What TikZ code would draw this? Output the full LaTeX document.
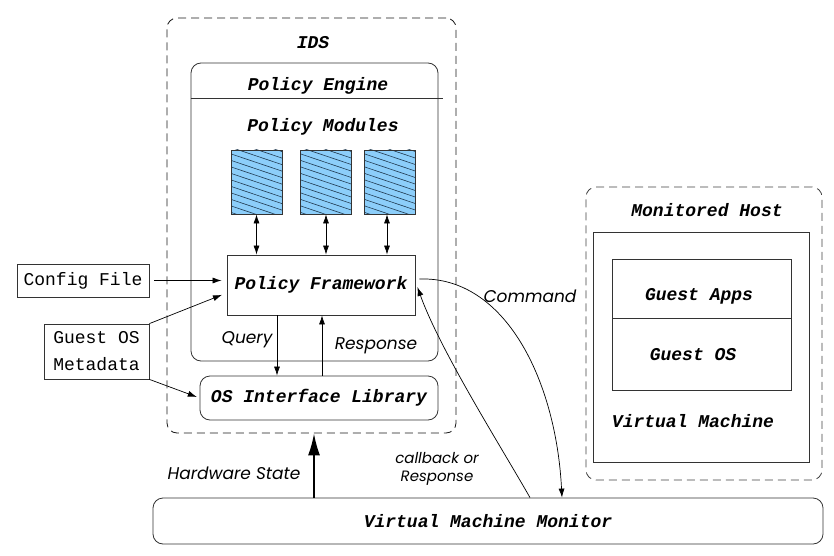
\documentclass[tikz,border=0pt]{standalone}
\usepackage{fontspec}
\newfontfamily\cour{Liberation Mono}
\newfontfamily\gothic{Poppins}
\usetikzlibrary{arrows.meta,calc}
\definecolor{modblue}{HTML}{8CCEFA}
\definecolor{hatchcol}{HTML}{203A50}
\begin{document}
\begin{tikzpicture}[x=1pt,y=-1pt, line width=0.8pt,
  box/.style={draw=black!80, inner sep=0pt},
  rbox/.style={box, rounded corners=10pt},
  dashbox/.style={rbox, draw=black!75, dash pattern=on 8pt off 5pt},
  mb/.style={font=\cour\bfseries\itshape\fontsize{18}{22}\selectfont},
  mono/.style={font=\cour\fontsize{18}{27}\selectfont},
  lab/.style={font=\gothic\itshape\fontsize{17}{20}\selectfont},
  smalllab/.style={font=\gothic\itshape\fontsize{15}{18}\selectfont, align=center},
  arr/.style={-{Latex[length=9pt,width=6pt]}, line width=0.7pt},
  dbl/.style={{Latex[length=9pt,width=6pt]}-{Latex[length=9pt,width=6pt]}, line width=0.7pt},
  harr/.style={-{Latex[length=22pt,width=12pt]}, line width=1.8pt},
  module/.style={draw=black!80, fill=modblue, minimum width=51pt, minimum height=64pt, inner sep=0pt,
    path picture={\foreach \k in {-9,...,9}{\draw[hatchcol, line width=0.6pt]
      ($(path picture bounding box.center)+(-40pt,\k*6.5pt+13.5pt)$) -- ++(80pt,-27pt);}}}
]
\useasboundingbox (0,0) rectangle (834,556);

% IDS
\node[dashbox, draw=black!90, minimum width=289pt, minimum height=415pt] (ids) at (311.5,225.5) {};
\node[mb] (idsl) at (313,43) {IDS};
\node[rbox, minimum width=247pt, minimum height=298pt] (pe) at (314.5,212) {};
\draw[draw=black!80] ([yshift=-36pt]pe.north west) -- ++(252,0);
\node[mb] (pel) at (318,86) {Policy Engine};
\node[mb] (pml) at (323,127) {Policy Modules};
\node[module] (m1) at (256.5,182) {};
\node[module] (m2) at (326,182) {};
\node[module] (m3) at (390,182) {};
\node[box, mb, minimum width=188pt, minimum height=60pt] (pf) at (321,285) {Policy Framework};
\draw[dbl] (m1.south) -- (m1.south |- pf.north);
\draw[dbl] (m2.south) -- (m2.south |- pf.north);
\draw[dbl] ([xshift=-3pt]m3.south) -- ([xshift=-3pt]m3.south |- pf.north);
\node[rbox, mb, minimum width=238pt, minimum height=44pt] (osil) at (319,398) {OS Interface Library};
\draw[arr] ([xshift=-44pt]pf.south) -- ([xshift=-44pt]pf.south |- osil.north);
\draw[arr] ([xshift=1pt]pf.south |- osil.north) -- ([xshift=1pt]pf.south);
\node[lab] (q) at (247,340) {Query};
\node[lab] (r) at (376,346) {Response};

% inputs
\node[box, mono, minimum width=132pt, minimum height=33pt] (cfg) at (83,280.5) {Config File};
\node[box, mono, align=left, minimum width=105pt, minimum height=55pt] (gom) at (96.5,351.5) {Guest OS\\Metadata};
\draw[arr, shorten <=5pt, shorten >=5pt] (cfg.east) -- (cfg.east -| pf.west);
\draw[arr, shorten >=5pt] (gom.north east) -- ([yshift=-8pt]pf.west);
\draw[arr, shorten >=3pt] (gom.south east) -- (osil.west);

% VMM
\node[rbox, mb, minimum width=670pt, minimum height=46pt] (vmm) at (488,521) {Virtual Machine Monitor};
\draw[harr] ([xshift=-174pt]vmm.north) -- ([xshift=-174pt]vmm.north |- ids.south);
\node[lab] (hw) at (234,473) {Hardware State};

% Monitored host
\node[dashbox, minimum width=236pt, minimum height=293pt] (mh) at (704,333.5) {};
\node[mb] (mhl) at (707,210) {Monitored Host};
\node[box, minimum width=216pt, minimum height=230pt] (vm) at (701,347) {};
\node[mb] (vml) at (693,421) {Virtual Machine};
\node[box, minimum width=179pt, minimum height=59pt] (ga) at (701.5,288.5) {};
\node[mb] (gal) at (699,296) {Guest Apps};
\node[box, minimum width=179pt, minimum height=72pt] (gos) at (701.5,354) {};
\node[mb] (gosl) at (693,355) {Guest OS};

% curves
\draw[arr] ([shift={(4pt,6pt)}]pf.east) .. controls (505,276) and (556,380) .. ([xshift=74pt]vmm.north);
\node[lab] (cmd) at (530,296) {Command};
\draw[arr] ([xshift=42pt]vmm.north) .. controls (500,445) and (440,350) .. ([shift={(2pt,-2pt)}]pf.east);
\node[smalllab] (cb) at (437,469) {callback or\\Response};
\end{tikzpicture}
\end{document}
